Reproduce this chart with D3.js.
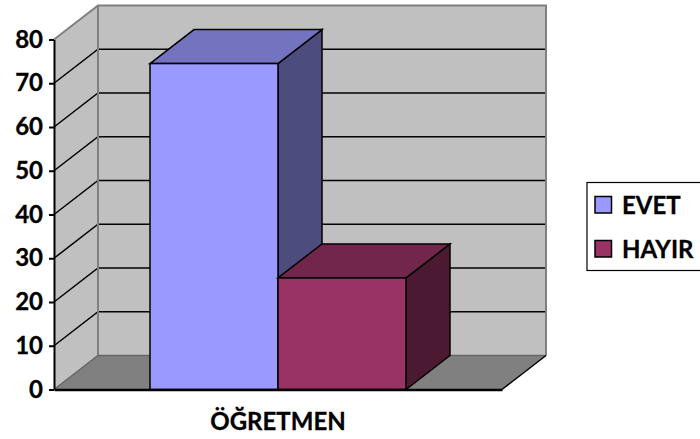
<!DOCTYPE html>
<html><head><meta charset="utf-8">
<script src="https://cdn.jsdelivr.net/npm/d3@7/dist/d3.min.js"></script>
<style>html,body{margin:0;padding:0;background:#fff}svg{display:block}text{font-family:Lato,"Open Sans",sans-serif;font-weight:700;fill:#000;stroke:#000;stroke-width:.3px}</style>
</head><body><svg id="c" width="700" height="439"></svg>
<script>
const categories = ["ÖĞRETMEN"];
const seriesNames = ["EVET", "HAYIR"];
const evetValues = [74.5];
const hayirValues = [25.5];
const yTicks = [0, 10, 20, 30, 40, 50, 60, 70, 80];
const seriesColors = {EVET: ["#9999ff", "#7373bf", "#4c4c7f"], HAYIR: ["#993366", "#73264c", "#4c1933"]};

const svg = d3.select("#c");
const dx = 44, dy = -34;
const y = d3.scaleLinear().domain([0, 80]).range([389.5, 39.5]);
const x0 = d3.scaleBand().domain(categories).range([54, 502]);
const x1 = d3.scaleBand().domain(seriesNames).range([150, 406]);
const pts = a => a.map(p => p.join(",")).join(" ");
const grey = "#808080";

// walls and floor
const L = x0.range()[0], R = x0.range()[1];
svg.append("polygon").attr("points", pts([[L + dx, y(80) + dy], [R + dx, y(80) + dy], [R + dx, y(0) + dy], [L + dx, y(0) + dy]]))
  .attr("fill", "#c0c0c0");
svg.append("polygon").attr("points", pts([[L, y(80)], [L + dx, y(80) + dy], [L + dx, y(0) + dy], [L, y(0)]]))
  .attr("fill", "#c0c0c0");
svg.append("polygon").attr("points", pts([[L, y(0)], [L + dx, y(0) + dy], [R + dx, y(0) + dy], [R, y(0)]]))
  .attr("fill", "#808080");

// gridlines
yTicks.filter(t => t > 0 && t < 80).forEach(t => {
  svg.append("polyline").attr("points", pts([[L, y(t)], [L + dx, y(t) + dy], [R + dx, y(t) + dy]]))
    .attr("fill", "none").attr("stroke", "#000").attr("stroke-width", 1.5);
});
// wall edges
svg.append("polyline").attr("points", pts([[L, y(80)], [L + dx, y(80) + dy], [R + dx, y(80) + dy], [R + dx, y(0) + dy]]))
  .attr("fill", "none").attr("stroke", grey).attr("stroke-width", 2);
svg.append("line").attr("x1", L + dx).attr("x2", L + dx).attr("y1", y(80) + dy).attr("y2", y(0) + dy).attr("stroke", grey).attr("stroke-width", 2);
svg.append("polyline").attr("points", pts([[L, y(0)], [L + dx, y(0) + dy], [R + dx, y(0) + dy]]))
  .attr("fill", "none").attr("stroke", "#666").attr("stroke-width", 1.5);
svg.append("line").attr("x1", R).attr("x2", R + dx).attr("y1", y(0)).attr("y2", y(0) + dy).attr("stroke", "#000").attr("stroke-width", 1.5);

// bars
const rows = [{n: "EVET", v: evetValues[0]}, {n: "HAYIR", v: hayirValues[0]}];
rows.forEach(d => {
  const a = x1(d.n), b = a + x1.bandwidth(), t = y(d.v), z = y(0);
  const c = seriesColors[d.n];
  const g = svg.append("g").attr("stroke", "#000").attr("stroke-width", 1.5).attr("stroke-linejoin", "miter");
  g.append("polygon").attr("points", pts([[b, t], [b + dx, t + dy], [b + dx, z + dy], [b, z]])).attr("fill", c[2]);
  g.append("polygon").attr("points", pts([[a, t], [a + dx, t + dy], [b + dx, t + dy], [b, t]])).attr("fill", c[1]);
  g.append("rect").attr("x", a).attr("y", t).attr("width", b - a).attr("height", z - t).attr("fill", c[0]);
});

// axes
const yAxis = d3.axisLeft(y).tickValues(yTicks).tickSize(5).tickPadding(6).tickSizeOuter(0);
const gy = svg.append("g").attr("transform", `translate(${L},0)`).call(yAxis);
gy.selectAll("path,line").attr("stroke", "#000").attr("stroke-width", 2);
gy.selectAll("text").style("font-size", "24px").style("font-family", 'Lato,sans-serif').style("font-weight", 700).attr("fill", "#000");

const xAxis = d3.axisBottom(x0).tickSize(0).tickPadding(23);
const gx = svg.append("g").attr("transform", `translate(0,${y(0)})`).call(xAxis);
gx.select("path").attr("stroke", "#000").attr("stroke-width", 2.5);
gx.selectAll("text").style("font-size", "24px").style("font-family", 'Lato,sans-serif').style("font-weight", 700).attr("fill", "#000");

// legend
const lg = svg.append("g");
lg.append("rect").attr("x", 587).attr("y", 182.5).attr("width", 120).attr("height", 88)
  .attr("fill", "#fff").attr("stroke", "#000").attr("stroke-width", 1.2);
const lgY = d3.scalePoint().domain(seriesNames).range([204.5, 248.5]);
seriesNames.forEach(n => {
  lg.append("rect").attr("x", 595).attr("y", lgY(n) - 8).attr("width", 16.5).attr("height", 16.5)
    .attr("fill", seriesColors[n][0]).attr("stroke", "#000").attr("stroke-width", 1.5);
  lg.append("text").attr("x", 622).attr("y", lgY(n) + 9).style("font-size", "24px").text(n);
});
</script></body></html>
